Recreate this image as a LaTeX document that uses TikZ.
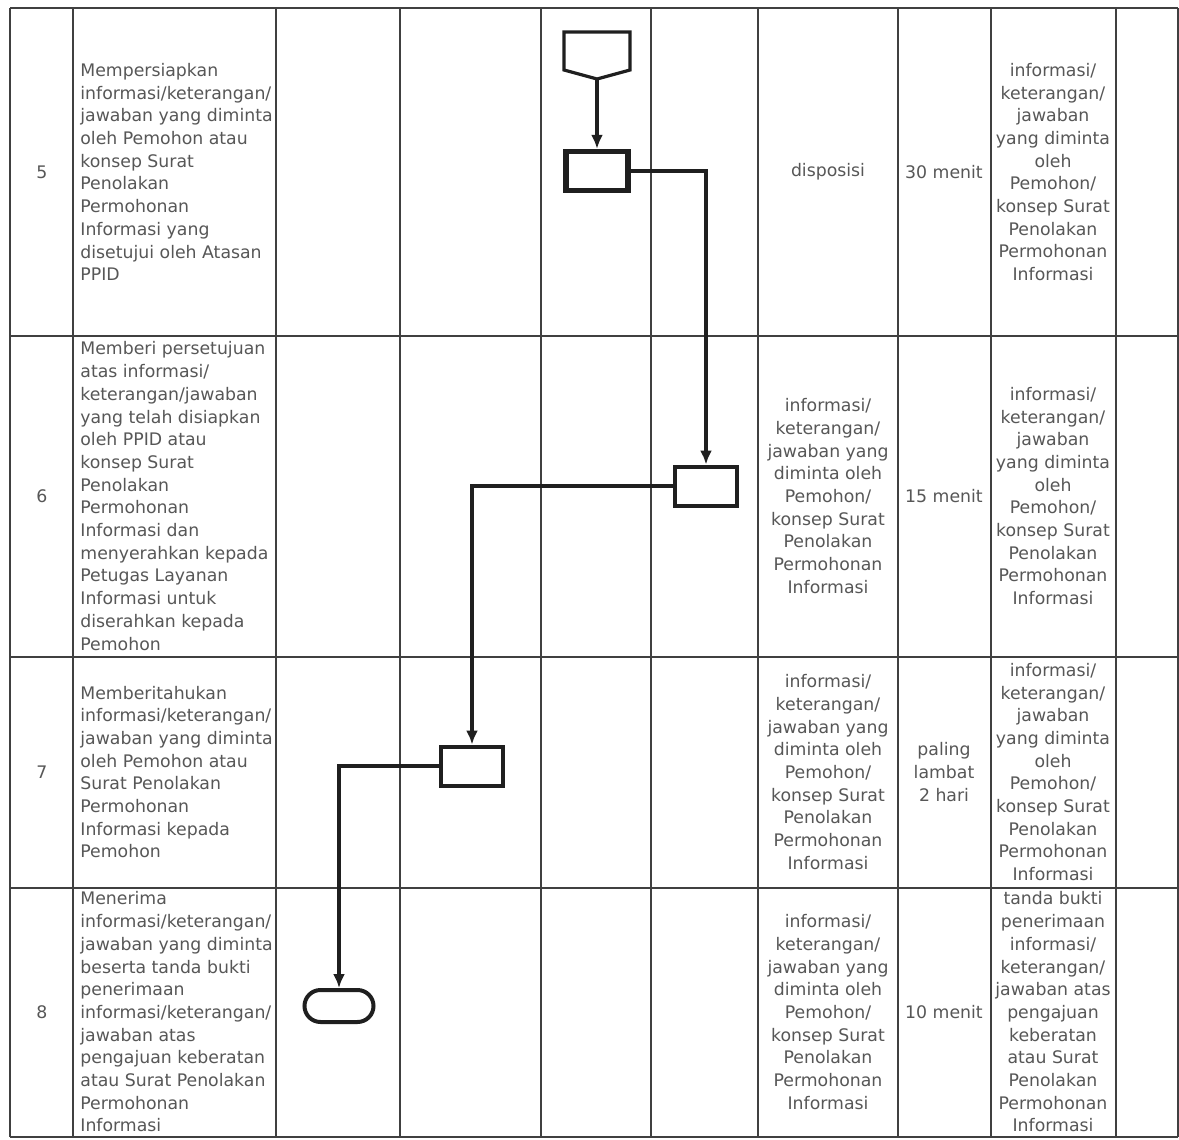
\documentclass[tikz,border=0pt]{standalone}
\usepackage{fontspec}
\setmainfont{DejaVu Sans}
\usetikzlibrary{arrows.meta,shapes.misc}
\tikzset{>={Latex[length=7pt,width=6pt]}}
\tikzset{
  tabline/.style={line width=0.9pt,draw=black!75},
  cell/.style={inner sep=0pt,text=black!66,font=\fontsize{8.65pt}{11.35pt}\selectfont},
  desc/.style={cell,anchor=west,align=left},
  mid/.style={cell,align=center},
  proc/.style={draw=black!88,line width=2pt,minimum width=31pt,minimum height=19.5pt,inner sep=0pt},
  procbold/.style={proc,line width=2.6pt},
  term/.style={draw=black!88,line width=2pt,rounded rectangle,minimum width=34.5pt,minimum height=16pt,inner sep=0pt},
  offpage/.style={draw=black!88,line width=1.6pt,line join=miter},
  flow/.style={->,draw=black!88,line width=1.6pt}
}
\newcommand\mintaText{informasi/\\keterangan/\\jawaban yang\\diminta oleh\\Pemohon/\\konsep Surat\\Penolakan\\Permohonan\\Informasi}
\newcommand\hasilText{informasi/\\keterangan/\\jawaban\\yang diminta\\oleh\\Pemohon/\\konsep Surat\\Penolakan\\Permohonan\\Informasi}

\begin{document}
\begin{tikzpicture}[x=0.5pt,y=-0.5pt]
\useasboundingbox[fill=white] (0,0) rectangle (1179,1140);

% table
\foreach \x in {10,73,276,400,541,651,758,898,991,1116,1178}
  \draw[tabline] (\x,8) -- (\x,1137);
\foreach \y in {8,336,657,888,1137}
  \draw[tabline] (10,\y) -- (1178,\y);

% step numbers
\foreach \n/\y in {5/172,6/496,7/772,8/1012}
  \node[mid] (no\n) at (42,\y) {\n};

% descriptions
\node[desc] (d5) at (80,172) {Mempersiapkan\\informasi/keterangan/\\jawaban yang diminta\\oleh Pemohon atau\\konsep Surat\\Penolakan\\Permohonan\\Informasi yang\\disetujui oleh Atasan\\PPID};
\node[desc] (d6) at (80,496) {Memberi persetujuan\\atas informasi/\\keterangan/jawaban\\yang telah disiapkan\\oleh PPID atau\\konsep Surat\\Penolakan\\Permohonan\\Informasi dan\\menyerahkan kepada\\Petugas Layanan\\Informasi untuk\\diserahkan kepada\\Pemohon};
\node[desc] (d7) at (80,772) {Memberitahukan\\informasi/keterangan/\\jawaban yang diminta\\oleh Pemohon atau\\Surat Penolakan\\Permohonan\\Informasi kepada\\Pemohon};
\node[desc] (d8) at (80,1012) {Menerima\\informasi/keterangan/\\jawaban yang diminta\\beserta tanda bukti\\penerimaan\\informasi/keterangan/\\jawaban atas\\pengajuan keberatan\\atau Surat Penolakan\\Permohonan\\Informasi};

% flow
\draw[offpage] (564,32) -- (630,32) -- (630,70) -- (597,79) coordinate (off) -- (564,70) -- cycle;
\node[procbold] (p5) at (597,171) {};
\node[proc] (p6) at (706,486) {};
\node[proc] (p7) at (472,766) {};
\node[term] (p8) at (339,1006) {};

\draw[flow] (off) -- (p5);
\draw[flow] (p5) -| (p6);
\draw[flow] (p6) -| (p7);
\draw[flow] (p7) -| (p8);

% kelengkapan
\node[mid] (k5) at (828,172) {disposisi};
\foreach \r/\y in {6/496,7/772,8/1012}
  \node[mid] (k\r) at (828,\y) {\mintaText};

% waktu
\node[mid] (w5) at (944,172) {30 menit};
\node[mid] (w6) at (944,496) {15 menit};
\node[mid] (w7) at (944,772) {paling\\lambat\\2 hari};
\node[mid] (w8) at (944,1012) {10 menit};

% output
\foreach \r/\y in {5/172,6/496,7/772}
  \node[mid] (o\r) at (1053,\y) {\hasilText};
\node[mid] (o8) at (1053,1012) {tanda bukti\\penerimaan\\informasi/\\keterangan/\\jawaban atas\\pengajuan\\keberatan\\atau Surat\\Penolakan\\Permohonan\\Informasi};
\end{tikzpicture}
\end{document}
